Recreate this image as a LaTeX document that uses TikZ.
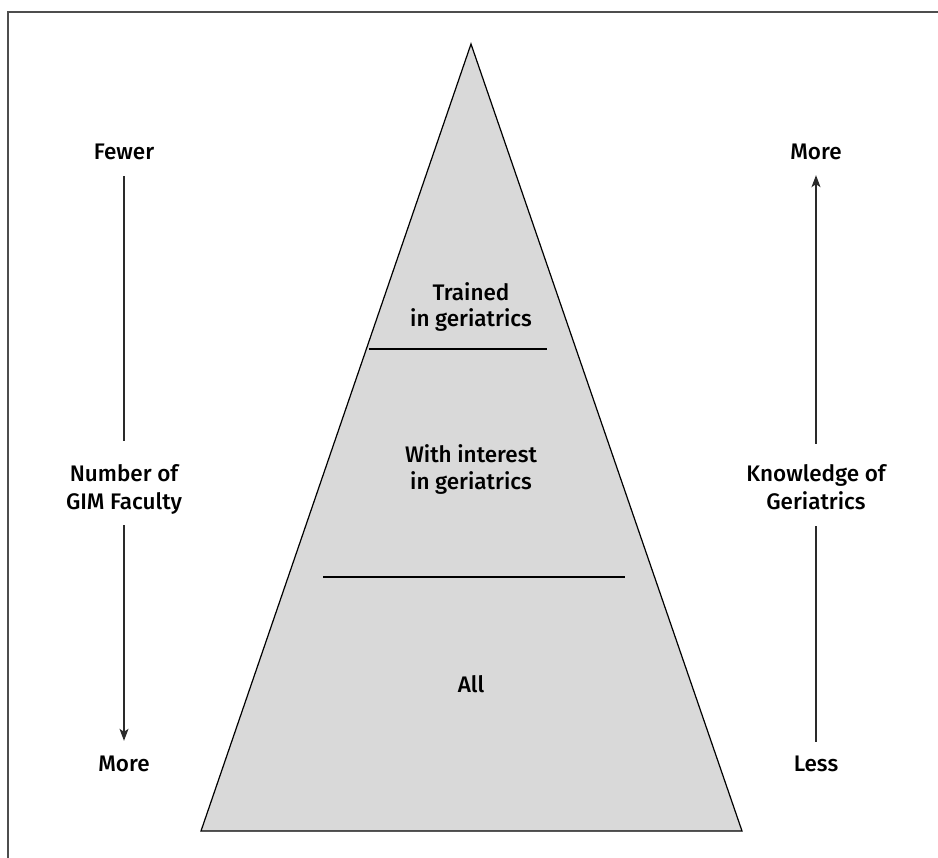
\documentclass[tikz,border=0pt]{standalone}
\usepackage{fontspec}
\setmainfont{Fira Sans}[UprightFont=* Medium]
\usetikzlibrary{arrows.meta}
\definecolor{framec}{HTML}{4D4D4D}
\definecolor{trifill}{HTML}{D9D9D9}
\definecolor{linec}{HTML}{2A2A2A}
\begin{document}
\begin{tikzpicture}[x=1pt,y=1pt,
  lab/.style={inner sep=0pt, text height=15pt, text depth=5pt, anchor=base, font=\fontsize{22.5}{27}\selectfont},
  axisline/.style={draw=linec, line width=1.2pt},
  tip/.style={-{Stealth[length=12pt,width=9pt,inset=3pt]}},
  divider/.style={draw=black, line width=1.1pt}]
\useasboundingbox (0,0) rectangle (938,-858);
% frame (top and left edges)
\draw[framec, line width=1.6pt] (8,-858) -- (8,-12) -- (938,-12);
% pyramid
\filldraw[fill=trifill, draw=black, line width=1.2pt, line join=miter] (471,-44) -- (742,-831) -- (201,-831) -- cycle;
\draw[divider] (369,-349) -- (547,-349);
\draw[divider] (323,-577) -- (625,-577);
% pyramid texts
\node[lab] (t1) at (471,-301) {Trained};
\node[lab] (t2) at (471,-327) {in geriatrics};
\node[lab] (w1) at (471,-463) {With interest};
\node[lab] (w2) at (471,-490) {in geriatrics};
\node[lab] (all) at (471,-692) {All};
% left axis
\node[lab] (fewer) at (124,-160) {Fewer};
\node[lab] (num1) at (124,-482) {Number of};
\node[lab] (num2) at (124,-510) {GIM Faculty};
\node[lab] (moreL) at (124,-771) {More};
\draw[axisline, shorten <=11pt, shorten >=26pt] (fewer) -- (num1);
\draw[axisline, tip, shorten <=10pt, shorten >=15pt] (num2) -- (moreL);
% right axis
\node[lab] (moreR) at (816,-160) {More};
\node[lab] (kn1) at (816,-482) {Knowledge of};
\node[lab] (kn2) at (816,-510) {Geriatrics};
\node[lab] (less) at (816,-771) {Less};
\draw[axisline, tip, shorten <=23pt, shorten >=10pt] (kn1) -- (moreR);
\draw[axisline, shorten <=11pt, shorten >=14pt] (kn2) -- (less);
\end{tikzpicture}
\end{document}
